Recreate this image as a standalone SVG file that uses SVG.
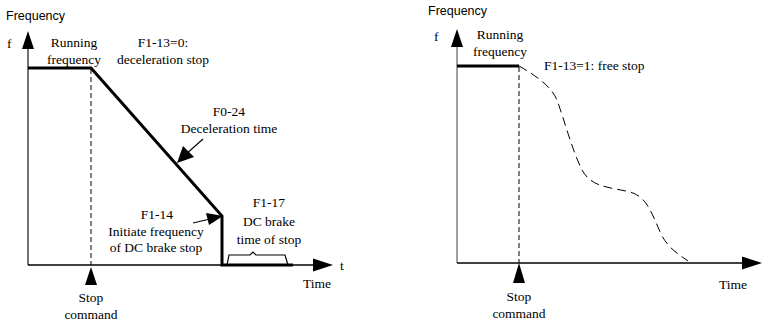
<svg xmlns="http://www.w3.org/2000/svg" width="769" height="323" viewBox="0 0 769 323">
<style>
.lbl{font-family:'Liberation Serif',serif;font-size:13.5px;fill:#000;text-anchor:middle}
.sans{font-family:'Liberation Sans',sans-serif;font-size:12.5px;text-anchor:start}
.st{text-anchor:start}
.thick{stroke:#000;stroke-width:3;fill:none}
.thin{stroke:#000;stroke-width:1.2;fill:none}
.dash{stroke:#000;stroke-width:1;fill:none;stroke-dasharray:5 3}
.curve{stroke:#000;stroke-width:1;fill:none;stroke-dasharray:9 5}
.head{fill:#000}
</style>
<g id="left-chart">
<g id="left-axes">
<line x1="28" y1="45" x2="28" y2="265" stroke="#444" stroke-width="1.5"/>
<polygon class="head" points="28,31 22,49 34,49"/>
<line x1="28" y1="265" x2="315" y2="265" stroke="#000" stroke-width="1.3"/>
<polygon class="head" points="333,265 313,258.5 313,271.5"/>
</g>
<g id="left-labels" class="lbl" font-family="Liberation Serif, serif">
<text class="sans" x="6" y="20" font-family="Liberation Sans, sans-serif">Frequency</text>
<text class="st" x="7" y="48">f</text>
<text x="74" y="47">Running</text>
<text x="74" y="64">frequency</text>
<text x="163" y="47">F1-13=0:</text>
<text x="163" y="64">deceleration stop</text>
<text x="229" y="116">F0-24</text>
<text x="229" y="133">Deceleration time</text>
<text x="157" y="219">F1-14</text>
<text x="156" y="236">Initiate frequency</text>
<text x="156" y="252">of DC brake stop</text>
<text x="269" y="207">F1-17</text>
<text x="269" y="226">DC brake</text>
<text x="269" y="244">time of stop</text>
<text class="st" x="340" y="270">t</text>
<text x="317" y="288">Time</text>
<text x="91" y="302">Stop</text>
<text x="91" y="319">command</text>
</g>
<g id="left-curve">
<polyline class="thick" points="28,68 91,68 222,216 222,265 293,265"/>
<line class="dash" x1="91" y1="69" x2="91" y2="265"/>
</g>
<g id="left-connectors">
<line class="thin" x1="203" y1="139" x2="185" y2="155"/>
<polygon class="head" points="177,163 183,146 194,157"/>
<line class="thin" x1="193" y1="223" x2="210" y2="219"/>
<polygon class="head" points="223,216 206,213 209,225"/>
<polygon class="head" points="91,267 85,285 97,285"/>
<path class="thin" stroke-width="1" d="M227,265 L229,255 L250,255 L253,252 L256,255 L285,255 L288,265"/>
</g>
</g>
<g id="right-chart">
<g id="right-axes">
<line x1="457" y1="44" x2="457" y2="263" stroke="#808080" stroke-width="1.5"/>
<polygon class="head" points="457,29 451,47 463,47"/>
<line x1="457" y1="263" x2="744" y2="263" stroke="#000" stroke-width="1.3"/>
<polygon class="head" points="762,263 742,256.5 742,269.5"/>
</g>
<g id="right-labels" class="lbl" font-family="Liberation Serif, serif">
<text class="sans" x="428" y="15" font-family="Liberation Sans, sans-serif">Frequency</text>
<text class="st" x="434" y="41">f</text>
<text x="500" y="39">Running</text>
<text x="500" y="56">frequency</text>
<text class="st" x="544" y="70">F1-13=1: free stop</text>
<text x="733" y="289">Time</text>
<text x="519" y="301">Stop</text>
<text x="519" y="318">command</text>
</g>
<g id="right-curve">
<line class="thick" x1="457" y1="66" x2="519" y2="66"/>
<line class="dash" x1="519" y1="67" x2="519" y2="263"/>
<path class="curve" d="M519,66 C540,78 552,88 557,100 C565,122 572,150 582,170 C592,188 610,187 630,192 C648,197 652,215 662,236 C670,250 680,255 688,261"/>
<polygon class="head" points="519,263 513,283 525,283"/>
</g>
</g>
</svg>
